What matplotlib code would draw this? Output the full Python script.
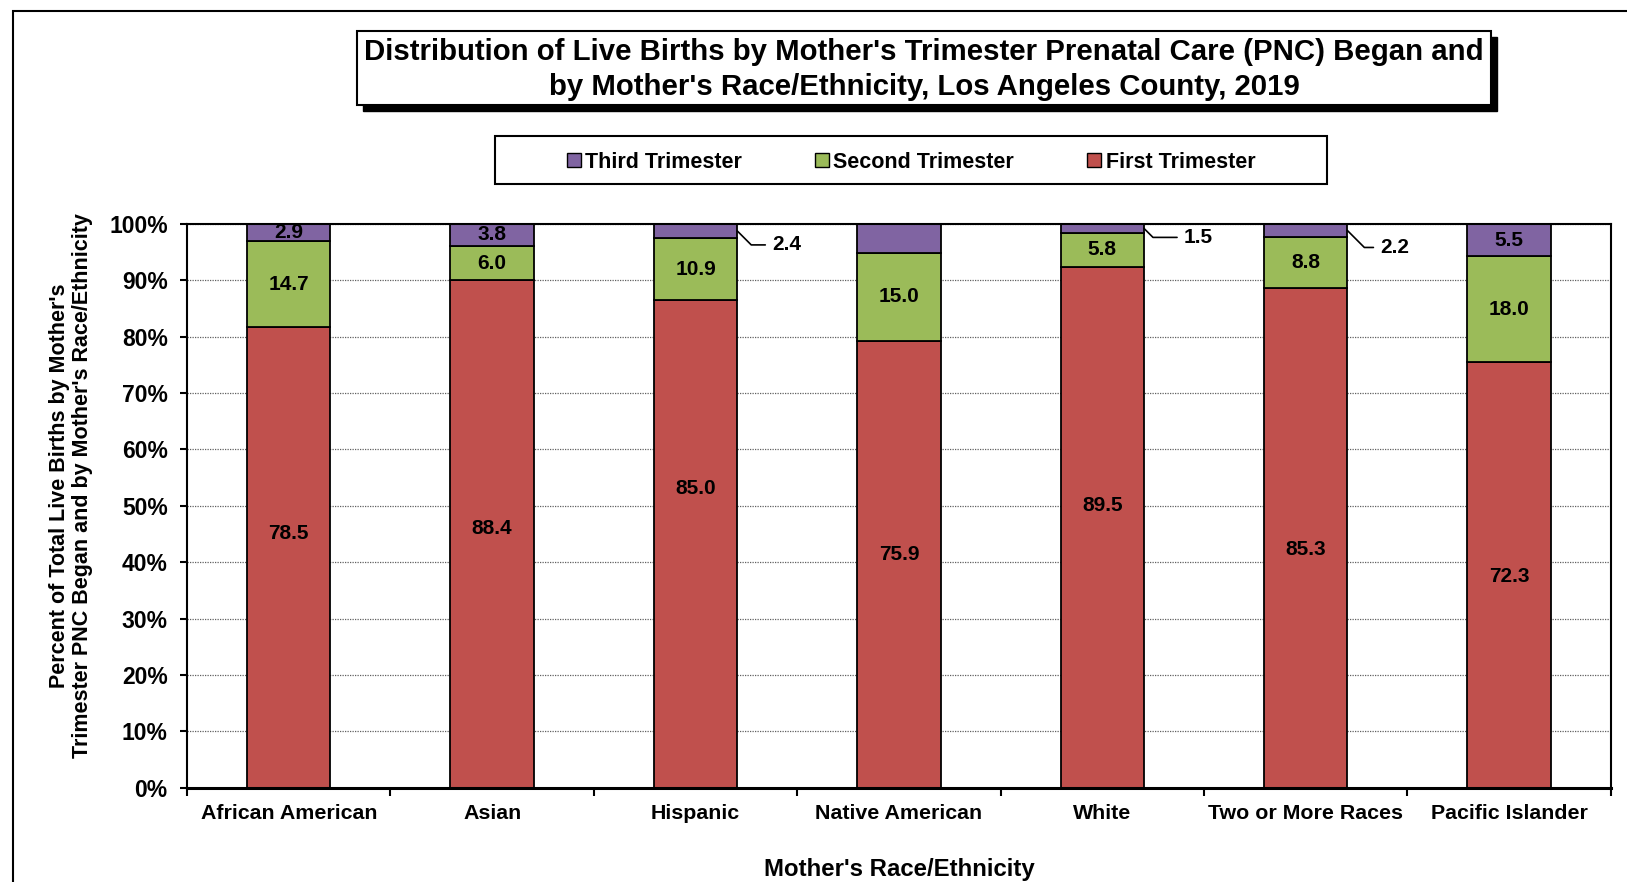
#---------Libraries---------#
import matplotlib
matplotlib.use("Agg")
import matplotlib.pyplot as plt
from matplotlib.patches import Rectangle, Patch
import numpy as np
#---------Libraries---------#

#-----------Data------------#
razas = ["African American", "Asian", "Hispanic", "Native American",
         "White", "Two or More Races", "Pacific Islander"]
primero = [78.5, 88.4, 85.0, 75.9, 89.5, 85.3, 72.3]
segundo = [14.7, 6.0, 10.9, 15.0, 5.8, 8.8, 18.0]
tercero = [2.9, 3.8, 2.4, 4.9, 1.5, 2.2, 5.5]
#-----------Data------------#

#----------Styles-----------#
ROJO = "#C0504D"
VERDE = "#9BBB59"
MORADO = "#8064A2"
FUENTE = "Liberation Sans"
# how the third-trimester label is shown: inside, leader line, or hidden
modo_tercero = ["in", "in", "out", "none", "out", "out", "in"]
offset_tercero = {2: (35, -14), 4: (40, -9), 5: (33, -17)}
# small vertical nudges of the first-trimester labels (percent points)
ajuste_primero = [4.3, 1.0, 9.8, 1.7, 3.9, -2.1, -0.3]
#----------Styles-----------#

plt.rcParams["font.family"] = [FUENTE, "DejaVu Sans"]
plt.rcParams["font.weight"] = "bold"

total = np.array(primero) + np.array(segundo) + np.array(tercero)
p1 = np.array(primero) / total * 100
p2 = np.array(segundo) / total * 100
p3 = np.array(tercero) / total * 100
x = np.arange(len(razas))
ancho = 0.41

fig = plt.figure(figsize=(16.27, 8.82), dpi=100)
ax = fig.add_axes([0.115, 0.107, 0.875, 0.639])

# outer frame
fig.add_artist(Rectangle((0.0077, -0.2), 1.3, 1.188, transform=fig.transFigure,
                         fill=False, edgecolor="black", linewidth=1.5))

ax.set_axisbelow(True)
ax.yaxis.grid(True, linestyle=(0, (1, 1)), color="#606060", linewidth=0.9)

b1 = ax.bar(x, p1, ancho, color=ROJO, edgecolor="black", linewidth=1.3)
b2 = ax.bar(x, p2, ancho, bottom=p1, color=VERDE, edgecolor="black", linewidth=1.3)
b3 = ax.bar(x, p3, ancho, bottom=p1 + p2, color=MORADO, edgecolor="black", linewidth=1.3)

for i in range(len(razas)):
    ax.text(x[i], p1[i] / 2 + ajuste_primero[i], "%.1f" % primero[i],
            ha="center", va="center", fontsize=15, fontweight="bold")
    ax.text(x[i], p1[i] + p2[i] / 2, "%.1f" % segundo[i],
            ha="center", va="center", fontsize=15, fontweight="bold")
    if modo_tercero[i] == "in":
        ax.text(x[i], p1[i] + p2[i] + p3[i] / 2, "%.1f" % tercero[i],
                ha="center", va="center", fontsize=15, fontweight="bold")
    elif modo_tercero[i] == "out":
        ax.annotate("%.1f" % tercero[i],
                    xy=(x[i] + ancho / 2, p1[i] + p2[i] + p3[i] / 2),
                    xytext=offset_tercero[i], textcoords="offset pixels",
                    ha="left", va="center", fontsize=15, fontweight="bold",
                    arrowprops=dict(arrowstyle="-", color="black", lw=1.2,
                                    shrinkA=3, shrinkB=0,
                                    connectionstyle="angle,angleA=0,angleB=-45"))

ax.set_xlim(-0.5, len(razas) - 0.5)
ax.set_ylim(0, 100)
ax.set_yticks(np.arange(0, 101, 10))
ax.set_yticklabels(["%d%%" % v for v in range(0, 101, 10)])
ax.set_xticks(x)
ax.set_xticklabels(razas)
ax.set_xticks(np.arange(-0.5, len(razas), 1), minor=True)
ax.tick_params(axis="x", which="major", length=0, pad=12, labelsize=15.4)
ax.tick_params(axis="x", which="minor", length=6, width=1.5, direction="out")
ax.tick_params(axis="y", length=5, width=1.5, labelsize=16.5, pad=9)
for lab in ax.get_xticklabels() + ax.get_yticklabels():
    lab.set_fontweight("bold")
for lado in ["left", "top", "right"]:
    ax.spines[lado].set_linewidth(1.5)
ax.spines["bottom"].set_linewidth(2.2)

fig.text(0.5525, 0.014, "Mother's Race/Ethnicity", ha="center", va="center",
         fontsize=17.3, fontweight="bold")
fig.text(0.0435, 0.449, "Percent of Total Live Births by Mother's\n"
         "Trimester PNC Began and by Mother's Race/Ethnicity",
         rotation=90, ha="center", va="center", multialignment="center",
         fontsize=15.5, fontweight="bold", linespacing=1.15)

# title box with shadow
fig.add_artist(Rectangle((0.2194 + 0.0037, 0.881 - 0.0068), 0.697, 0.0839,
                         transform=fig.transFigure, facecolor="black", edgecolor="black"))
fig.add_artist(Rectangle((0.2194, 0.881), 0.697, 0.0839, transform=fig.transFigure,
                         facecolor="white", edgecolor="black", linewidth=1.5))
fig.text(0.568, 0.921, "Distribution of Live Births by Mother's Trimester Prenatal Care (PNC) Began and\n"
         "by Mother's Race/Ethnicity, Los Angeles County, 2019",
         ha="center", va="center", fontsize=21.2, fontweight="bold", linespacing=1.3)

# legend box
fig.add_artist(Rectangle((495 / 1627, 1 - 184 / 882), (1327 - 495) / 1627, 48 / 882,
                         transform=fig.transFigure, facecolor="white",
                         edgecolor="black", linewidth=1.5))
manijas = [Patch(facecolor=MORADO, edgecolor="black", label="Third Trimester"),
           Patch(facecolor=VERDE, edgecolor="black", label="Second Trimester"),
           Patch(facecolor=ROJO, edgecolor="black", label="First Trimester")]
fig.legend(handles=manijas, loc="center", bbox_to_anchor=(911 / 1627, 1 - 162 / 882),
           ncol=3, frameon=False, handlelength=0.65, handleheight=0.65,
           handletextpad=0.2, columnspacing=3.4, prop={"weight": "bold", "size": 15.5})

fig.savefig("out.png", dpi=100)
